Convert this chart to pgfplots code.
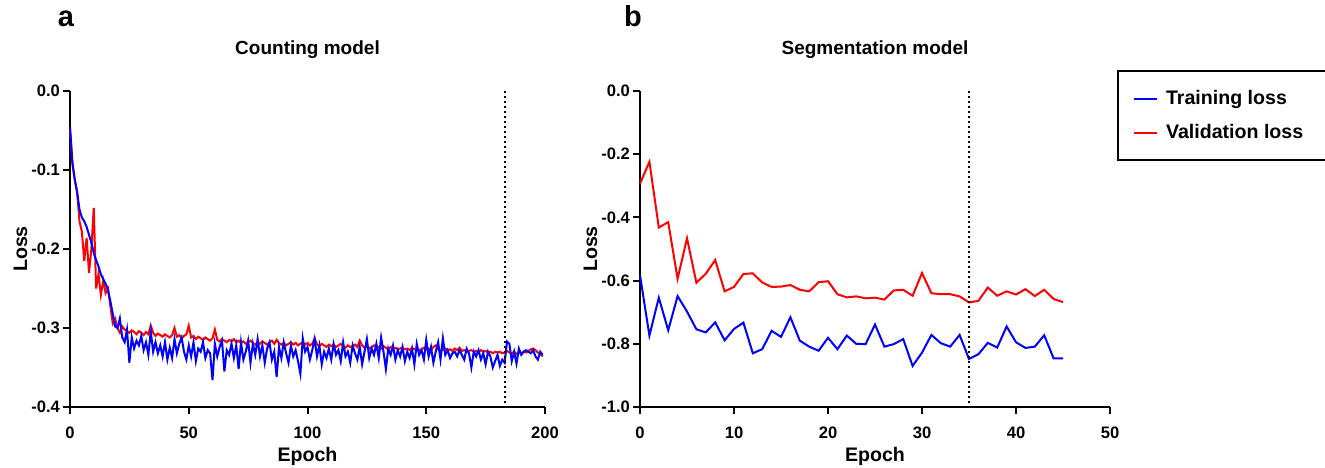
\documentclass[border=0pt]{standalone}
\usepackage{fontspec}
\setmainfont{Liberation Sans}
\usepackage{pgfplots}
\pgfplotsset{compat=1.18}
\usepackage{pgfplotstable}

% Counting model: columns train val, epoch = row index
\pgfplotstableread{
train val
-0.045 -0.048
-0.090 -0.092
-0.112 -0.112
-0.128 -0.128
-0.150 -0.165
-0.160 -0.178
-0.165 -0.215
-0.172 -0.186
-0.182 -0.230
-0.192 -0.200
-0.205 -0.148
-0.214 -0.250
-0.222 -0.232
-0.232 -0.258
-0.238 -0.240
-0.244 -0.256
-0.252 -0.250
-0.266 -0.272
-0.282 -0.294
-0.298 -0.288
-0.300 -0.300
-0.288 -0.306
-0.312 -0.298
-0.318 -0.302
-0.302 -0.304
-0.344 -0.306
-0.312 -0.303
-0.326 -0.305
-0.316 -0.308
-0.322 -0.304
-0.310 -0.306
-0.328 -0.309
-0.318 -0.305
-0.334 -0.308
-0.304 -0.297
-0.330 -0.306
-0.318 -0.310
-0.332 -0.307
-0.322 -0.309
-0.336 -0.311
-0.318 -0.308
-0.340 -0.310
-0.325 -0.312
-0.338 -0.309
-0.314 -0.300
-0.332 -0.311
-0.320 -0.309
-0.312 -0.313
-0.330 -0.310
-0.340 -0.308
-0.322 -0.297
-0.336 -0.312
-0.318 -0.310
-0.342 -0.314
-0.326 -0.311
-0.330 -0.313
-0.318 -0.315
-0.338 -0.312
-0.328 -0.314
-0.332 -0.316
-0.366 -0.313
-0.320 -0.302
-0.336 -0.315
-0.324 -0.317
-0.316 -0.314
-0.355 -0.316
-0.328 -0.318
-0.334 -0.315
-0.320 -0.317
-0.338 -0.314
-0.322 -0.318
-0.352 -0.316
-0.318 -0.319
-0.340 -0.317
-0.330 -0.320
-0.316 -0.318
-0.344 -0.316
-0.320 -0.319
-0.334 -0.321
-0.314 -0.318
-0.336 -0.320
-0.322 -0.317
-0.344 -0.319
-0.326 -0.321
-0.318 -0.318
-0.340 -0.316
-0.330 -0.320
-0.362 -0.315
-0.324 -0.319
-0.338 -0.321
-0.318 -0.319
-0.332 -0.322
-0.344 -0.320
-0.322 -0.318
-0.336 -0.321
-0.328 -0.319
-0.342 -0.322
-0.358 -0.320
-0.313 -0.318
-0.330 -0.321
-0.324 -0.319
-0.340 -0.322
-0.328 -0.320
-0.314 -0.313
-0.336 -0.321
-0.322 -0.323
-0.346 -0.320
-0.330 -0.322
-0.338 -0.324
-0.326 -0.321
-0.340 -0.323
-0.320 -0.321
-0.334 -0.324
-0.328 -0.322
-0.342 -0.320
-0.318 -0.323
-0.336 -0.325
-0.330 -0.322
-0.344 -0.324
-0.322 -0.323
-0.332 -0.321
-0.340 -0.324
-0.324 -0.316
-0.346 -0.322
-0.330 -0.325
-0.314 -0.323
-0.338 -0.326
-0.326 -0.324
-0.334 -0.322
-0.320 -0.325
-0.338 -0.324
-0.312 -0.326
-0.330 -0.323
-0.352 -0.325
-0.326 -0.327
-0.334 -0.324
-0.322 -0.326
-0.340 -0.325
-0.328 -0.327
-0.336 -0.326
-0.324 -0.325
-0.342 -0.327
-0.330 -0.326
-0.338 -0.328
-0.326 -0.325
-0.346 -0.327
-0.320 -0.326
-0.334 -0.328
-0.328 -0.327
-0.340 -0.325
-0.315 -0.327
-0.336 -0.326
-0.324 -0.328
-0.344 -0.324
-0.330 -0.322
-0.318 -0.327
-0.340 -0.329
-0.313 -0.328
-0.334 -0.326
-0.328 -0.328
-0.338 -0.327
-0.332 -0.329
-0.330 -0.326
-0.336 -0.328
-0.328 -0.325
-0.334 -0.329
-0.340 -0.328
-0.326 -0.330
-0.332 -0.329
-0.350 -0.328
-0.330 -0.330
-0.336 -0.329
-0.328 -0.331
-0.340 -0.328
-0.332 -0.330
-0.346 -0.329
-0.330 -0.331
-0.336 -0.330
-0.350 -0.332
-0.342 -0.330
-0.334 -0.331
-0.348 -0.330
-0.340 -0.332
-0.344 -0.331
-0.317 -0.329
-0.320 -0.331
-0.342 -0.332
-0.330 -0.330
-0.345 -0.333
-0.326 -0.331
-0.334 -0.332
-0.330 -0.330
-0.328 -0.331
-0.330 -0.329
-0.332 -0.327
-0.328 -0.326
-0.336 -0.328
-0.340 -0.331
-0.330 -0.333
-0.334 -0.336
}\countdata

% Segmentation model
\pgfplotstableread{
train val
-0.583 -0.293
-0.774 -0.224
-0.654 -0.432
-0.757 -0.415
-0.649 -0.594
-0.698 -0.466
-0.754 -0.607
-0.764 -0.578
-0.732 -0.535
-0.789 -0.634
-0.753 -0.620
-0.733 -0.579
-0.830 -0.577
-0.817 -0.606
-0.759 -0.620
-0.778 -0.619
-0.716 -0.614
-0.790 -0.629
-0.809 -0.634
-0.822 -0.605
-0.781 -0.602
-0.817 -0.643
-0.774 -0.653
-0.800 -0.650
-0.801 -0.656
-0.739 -0.654
-0.809 -0.660
-0.801 -0.631
-0.785 -0.629
-0.870 -0.648
-0.828 -0.576
-0.772 -0.640
-0.798 -0.643
-0.809 -0.643
-0.772 -0.650
-0.848 -0.669
-0.833 -0.664
-0.797 -0.622
-0.812 -0.648
-0.745 -0.634
-0.795 -0.644
-0.813 -0.627
-0.809 -0.649
-0.773 -0.629
-0.846 -0.658
-0.846 -0.668
}\segdata

\pgfplotsset{
  lossaxis/.style={
    scale only axis, height=158pt,
    axis x line*=bottom, axis y line*=left,
    axis line style={line width=1pt,-},
    tick align=outside, major tick length=3.5pt,
    every tick/.style={black, line width=1pt},
    tick label style={font=\bfseries\fontsize{8.3}{10}\selectfont},
    xticklabel style={yshift=-3pt},
    /pgf/number format/assume math mode=true,
    yticklabel style={xshift=2pt, /pgf/number format/.cd, fixed, fixed zerofill, precision=1},
    label style={font=\bfseries\fontsize{9.8}{11}\selectfont},
    title style={font=\bfseries\fontsize{9.5}{11}\selectfont, at={(axis description cs:0.5,1.076)}, anchor=base},
    xlabel style={at={(axis description cs:0.5,-0.171)}, anchor=base},
    ylabel style={anchor=base},
    clip=false,
    every axis plot/.append style={line width=1pt, no markers},
  },
  vdot/.style={black, line width=1pt, dash pattern=on 0.9pt off 1.6pt},
}

\begin{document}
\begin{tikzpicture}
\useasboundingbox (0,0) rectangle (662.5pt,233.5pt);

\node[font=\bfseries\fontsize{14.5}{16}\selectfont, anchor=base] at (33pt,220pt) {a};
\node[font=\bfseries\fontsize{14.5}{16}\selectfont, anchor=base] at (316.5pt,220pt) {b};

\begin{axis}[lossaxis,
  at={(35pt,30pt)}, anchor=south west, width=237.5pt,
  xmin=0, xmax=200, ymin=-0.4, ymax=0,
  xtick={0,50,100,150,200}, ytick={-0.4,-0.3,-0.2,-0.1,0},
  title={Counting model}, xlabel={Epoch}, ylabel={Loss},
  ylabel style={at={(axis description cs:-0.0905,0.5)}},
]
\addplot[red] table[x expr=\coordindex, y=val] {\countdata};
\addplot[blue] table[x expr=\coordindex, y=train] {\countdata};
\addplot[vdot] coordinates {(183,0) (183,-0.4)};
\end{axis}

\begin{axis}[lossaxis,
  at={(320pt,30pt)}, anchor=south west, width=235pt,
  xmin=0, xmax=50, ymin=-1, ymax=0,
  xtick={0,10,20,30,40,50}, ytick={-1,-0.8,-0.6,-0.4,-0.2,0},
  title={Segmentation model}, xlabel={Epoch}, ylabel={Loss},
  ylabel style={at={(axis description cs:-0.0915,0.5)}},
  legend cell align=left,
  legend image code/.code={\draw[#1] (0pt,0pt) -- (11.5pt,0pt);},
  legend style={at={(axis description cs:1.0149,1.0665)}, anchor=north west,
    draw=black, line width=1pt, font=\bfseries\fontsize{9.8}{11}\selectfont,
    inner xsep=7.5pt, inner ysep=9.5pt, row sep=8.5pt,
    nodes={inner sep=0pt},
    /tikz/every odd column/.append style={column sep=4pt}},
]
\addplot[blue] table[x expr=\coordindex, y=train] {\segdata};
\addlegendentry{Training loss}
\addplot[red] table[x expr=\coordindex, y=val] {\segdata};
\addlegendentry{Validation loss\hspace*{4pt}}
\addplot[vdot, forget plot] coordinates {(35,0) (35,-1)};
\end{axis}
\end{tikzpicture}
\end{document}
